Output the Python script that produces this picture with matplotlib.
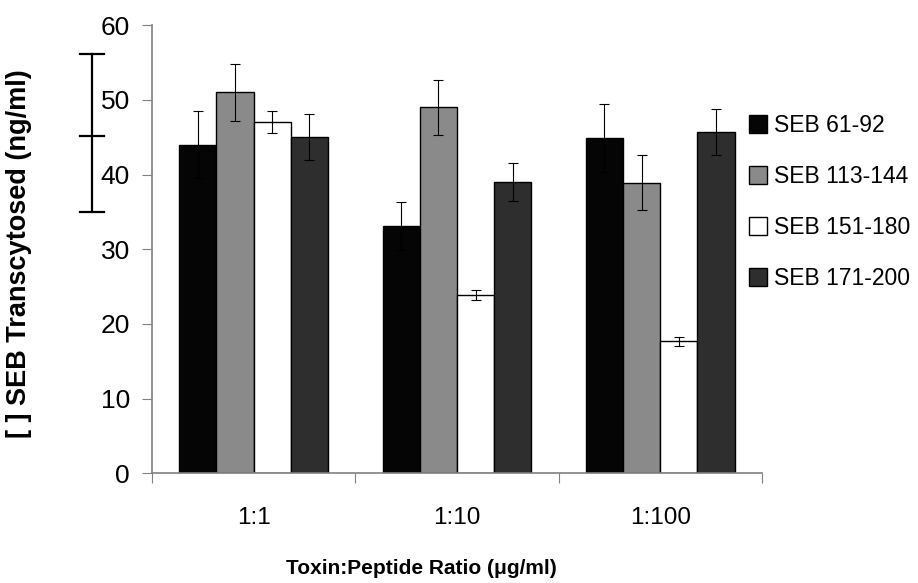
import numpy as np
import matplotlib
matplotlib.use("Agg")
import matplotlib.pyplot as plt
import matplotlib.transforms as mtransforms

# data
ratios = ["1:1", "1:10", "1:100"]
series = ["SEB 61-92", "SEB 113-144", "SEB 151-180", "SEB 171-200"]
means = [
    [44.0, 33.1, 44.9],   # SEB 61-92
    [51.0, 49.0, 38.9],   # SEB 113-144
    [47.0, 23.9, 17.7],   # SEB 151-180
    [45.0, 39.0, 45.7],   # SEB 171-200
]
errors = [
    [4.5, 3.2, 4.5],
    [3.8, 3.7, 3.7],
    [1.5, 0.7, 0.6],
    [3.1, 2.6, 3.1],
]
colors = ["#050505", "#8a8a8a", "#ffffff", "#2e2e2e"]

# control range bracket on the left of the axis
control_mean = 45.1
control_low = 35.0
control_high = 56.1

plt.rcParams["font.family"] = ["Liberation Sans", "DejaVu Sans"]

fig = plt.figure(figsize=(9.18, 5.83), dpi=100)
ax = fig.add_axes([0.1656, 0.188, 0.6644, 0.769])

x = np.arange(len(ratios))
w = 0.183
for i, name in enumerate(series):
    pos = x + (i - 1.5) * w
    ax.bar(pos, means[i], width=w, color=colors[i], edgecolor="black",
           linewidth=1.0, label=name, zorder=2)
    ax.errorbar(pos, means[i], yerr=errors[i], fmt="none", ecolor="black",
                elinewidth=0.8, capsize=3.5, capthick=0.8, zorder=3)

ax.set_xlim(-0.5, 2.5)
ax.set_ylim(0, 60)
ax.set_yticks(np.arange(0, 61, 10))
ax.set_xticks([-0.5, 0.5, 1.5, 2.5])
ax.set_xticklabels([])
ax.set_xticks(x, minor=True)
ax.set_xticklabels(ratios, minor=True, fontsize=17.5)

ax.spines["top"].set_visible(False)
ax.spines["right"].set_visible(False)
for s in ["left", "bottom"]:
    ax.spines[s].set_color("#808080")
    ax.spines[s].set_linewidth(1.2)
ax.tick_params(axis="y", which="major", length=7, color="#808080",
               labelsize=19, pad=9)
ax.tick_params(axis="x", which="major", length=7, color="#808080")
ax.tick_params(axis="x", which="minor", length=0, pad=24)

ax.set_ylabel("[ ] SEB Transcytosed (ng/ml)", fontsize=19.5, fontweight="bold")
ax.yaxis.set_label_coords(-0.197, 0.49)
ax.set_xlabel("Toxin:Peptide Ratio (\u03bcg/ml)", fontsize=15, fontweight="bold")
ax.xaxis.set_label_coords(0.441, -0.19)

# bracket showing the control range
trans = mtransforms.blended_transform_factory(ax.transAxes, ax.transData)
bx = -0.098
cap = 0.02
ax.plot([bx, bx], [control_low, control_high], color="black", lw=1.6,
        transform=trans, clip_on=False)
for yv in (control_low, control_mean, control_high):
    ax.plot([bx - cap, bx + cap], [yv, yv], color="black", lw=1.6,
            transform=trans, clip_on=False)

ax.legend(loc="upper left", bbox_to_anchor=(749 / 918, 1 - 114 / 583),
          bbox_transform=fig.transFigure, frameon=False, fontsize=16.5,
          handlelength=0.8, handleheight=0.8, handletextpad=0.3,
          labelspacing=1.22, borderpad=0, borderaxespad=0)

fig.savefig("out.png", dpi=100)
